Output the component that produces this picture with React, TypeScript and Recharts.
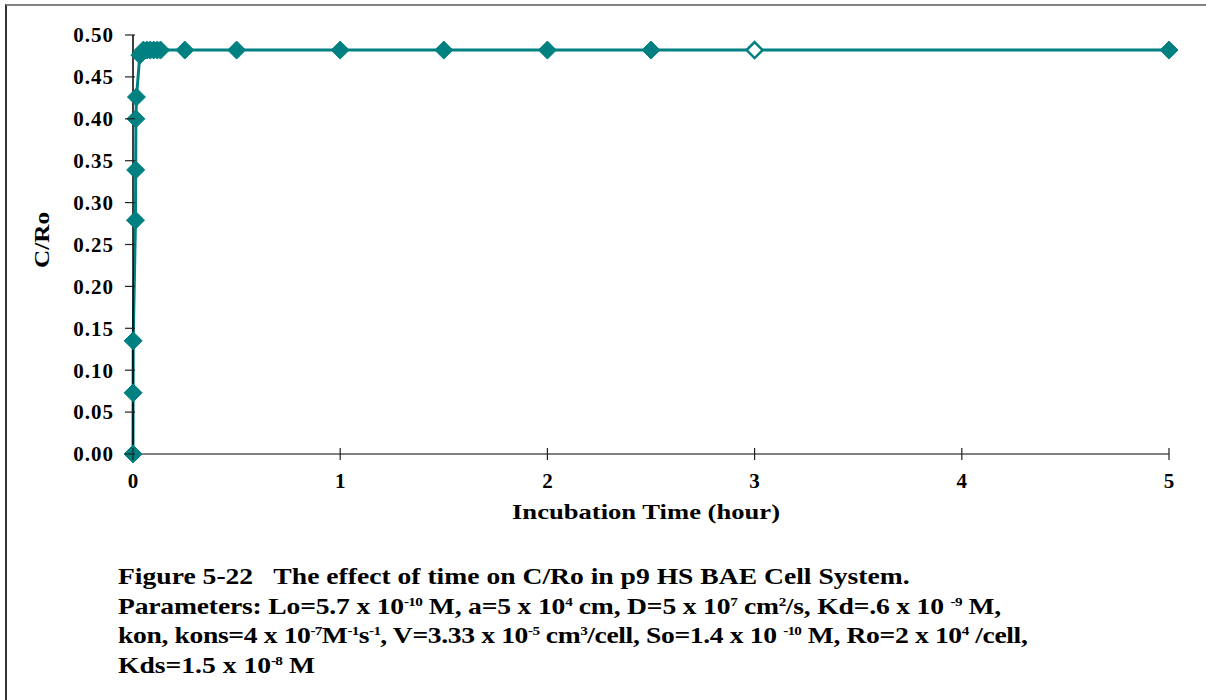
import React from 'react';
import { LineChart, Line, XAxis, YAxis } from 'recharts';

const times = [0, 0.0005, 0.001, 0.012, 0.013, 0.014, 0.0167, 0.033, 0.05, 0.067, 0.083, 0.1, 0.117, 0.133, 0.25, 0.5, 1, 1.5, 2, 2.5, 3, 5];
const cRo = [0, 0.073, 0.135, 0.279, 0.339, 0.4, 0.426, 0.476, 0.482, 0.482, 0.482, 0.482, 0.482, 0.482, 0.482, 0.482, 0.482, 0.482, 0.482, 0.482, 0.482, 0.482];
const xTicks = [0, 1, 2, 3, 4, 5];
const yTicks = [0, 0.05, 0.1, 0.15, 0.2, 0.25, 0.3, 0.35, 0.4, 0.45, 0.5];
const hollowTime = 3;

const data = times.map((t, i) => ({ t, v: cRo[i] }));

const FONT = '"Liberation Serif", "Times New Roman", serif';
const TEAL = '#008080';

const Diamond = (props: any) => {
  const { cx, cy, payload } = props;
  if (cx == null || cy == null) return null;
  const hollow = payload && payload.t === hollowTime;
  const r = hollow ? 8 : 9;
  const pts = `${cx},${cy - r} ${cx + r},${cy} ${cx},${cy + r} ${cx - r},${cy}`;
  return (
    <polygon
      key={`d-${props.index}`}
      points={pts}
      fill={hollow ? '#ffffff' : TEAL}
      stroke={TEAL}
      strokeWidth={hollow ? 2.5 : 1}
    />
  );
};

const YTick = (props: any) => {
  const { x, y, payload } = props;
  return (
    <g>
      <line x1={x - 8} x2={x + 2} y1={y} y2={y} stroke="#222" strokeWidth={1.2} />
      <text x={x - 19} y={y} dy="0.35em" textAnchor="end" fontFamily={FONT} fontWeight="bold" fontSize={21} letterSpacing={1} fill="#000">
        {Number(payload.value).toFixed(2)}
      </text>
    </g>
  );
};

const XTick = (props: any) => {
  const { x, y, payload } = props;
  return (
    <g>
      <line x1={x} x2={x} y1={y - 6} y2={y + 6} stroke="#222" strokeWidth={1.2} />
      <text x={x} y={y + 27} dy="0.35em" textAnchor="middle" fontFamily={FONT} fontWeight="bold" fontSize={21} fill="#000">
        {payload.value}
      </text>
    </g>
  );
};

const sup: React.CSSProperties = { fontSize: '0.55em', verticalAlign: '0.6em', lineHeight: 0, letterSpacing: '-0.6px' };

export default function App() {
  return (
    <div style={{ position: 'absolute', left: 0, top: 0, width: 1206, height: 700, background: '#fff', overflow: 'hidden' }}>
      <div style={{ position: 'absolute', left: 5, top: 4, right: 0, bottom: 0, borderTop: '2px solid #808080', borderLeft: '2px solid #333' }} />
      <div style={{ position: 'absolute', left: 0, top: 0 }}>
        <LineChart width={1206} height={540} data={data} margin={{ top: 35, right: 37, bottom: 26, left: 0 }}>
          <XAxis
            dataKey="t"
            type="number"
            domain={[0, 5]}
            ticks={xTicks}
            interval={0}
            height={60}
            tickSize={0}
            tickMargin={0}
            tickLine={false}
            tick={<XTick />}
            axisLine={{ stroke: '#808080', strokeWidth: 2 }}
            label={{
              content: (p: any) => {
                const vb = p.viewBox || {};
                return (
                  <text x={646} y={vb.y + 57} dy="0.35em" textAnchor="middle" fontFamily={FONT} fontWeight="bold" fontSize={22} textLength={268} lengthAdjust="spacingAndGlyphs" fill="#000">
                    Incubation Time (hour)
                  </text>
                );
              },
            }}
          />
          <YAxis
            dataKey="v"
            type="number"
            domain={[0, 0.5]}
            ticks={yTicks}
            interval={0}
            width={133}
            tickSize={0}
            tickMargin={0}
            tickLine={false}
            tick={<YTick />}
            axisLine={{ stroke: '#000', strokeWidth: 1.5 }}
            label={{
              content: () => (
                <text x={41} y={240} dy="0.35em" textAnchor="middle" transform="rotate(-90 41 240)" fontFamily={FONT} fontWeight="bold" fontSize={22} textLength={56} lengthAdjust="spacingAndGlyphs" fill="#000">
                  C/Ro
                </text>
              ),
            }}
          />
          <Line
            type="linear"
            dataKey="v"
            stroke={TEAL}
            strokeWidth={3}
            dot={<Diamond />}
            activeDot={false}
            isAnimationActive={false}
          />
        </LineChart>
      </div>
      <div style={{ position: 'absolute', left: 118, top: 562, fontFamily: FONT, fontWeight: 'bold', fontSize: 23, lineHeight: '29.7px', color: '#000', whiteSpace: 'nowrap', transform: 'scaleX(1.2)', transformOrigin: '0 0' }}>
        <div>Figure 5-22&nbsp;&nbsp; The effect of time on C/Ro in p9 HS BAE Cell System.</div>
        <div style={{ letterSpacing: '-0.15px' }}>
          Parameters: Lo=5.7 x 10<span style={sup}>-10</span> M, a=5 x 10<span style={sup}>4</span> cm, D=5 x 10<span style={sup}>7</span> cm<span style={sup}>2</span>/s, Kd=.6 x 10 <span style={sup}>-9</span> M,
        </div>
        <div style={{ letterSpacing: '-0.3px' }}>
          kon, kons=4 x 10<span style={sup}>-7</span>M<span style={sup}>-1</span>s<span style={sup}>-1</span>, V=3.33 x 10<span style={sup}>-5</span> cm<span style={sup}>3</span>/cell, So=1.4 x 10 <span style={sup}>-10</span> M, Ro=2 x 10<span style={sup}>4</span> /cell,
        </div>
        <div>
          Kds=1.5 x 10<span style={sup}>-8</span> M
        </div>
      </div>
    </div>
  );
}
